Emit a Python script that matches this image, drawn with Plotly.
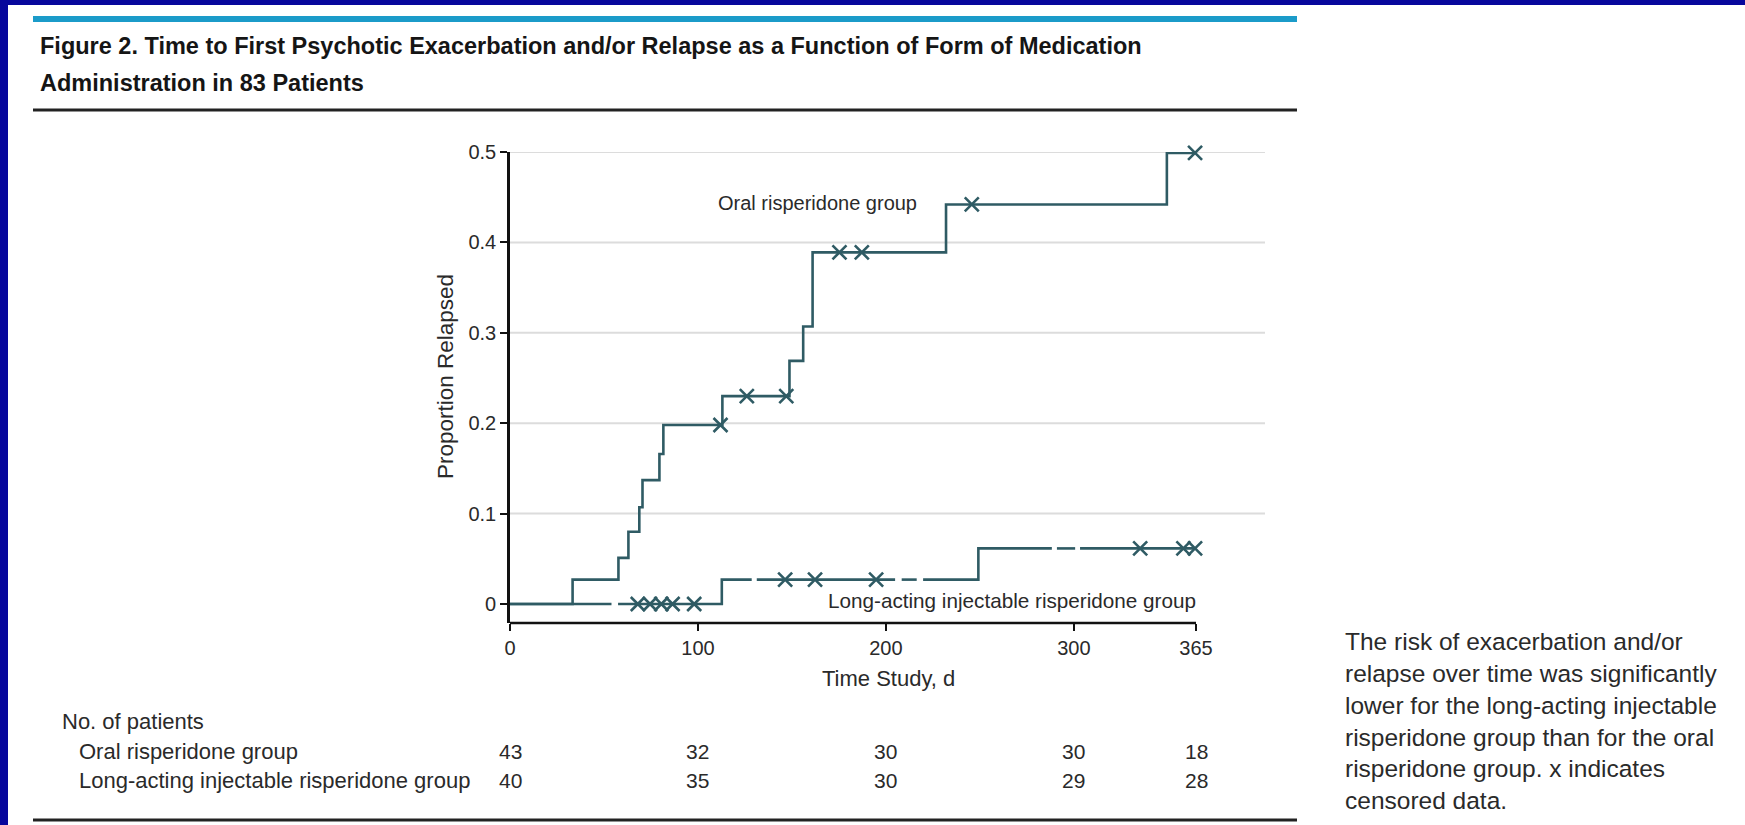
import plotly.graph_objects as go

# ---------------- data ----------------
oral_step_days = [0, 33.3, 57.7, 63.0, 68.8, 70.5, 79.5, 81.6, 113.0, 148.7, 156.0, 161.0, 232.0, 349.5]
oral_step_vals = [0, 0.027, 0.051, 0.080, 0.107, 0.137, 0.166, 0.198, 0.230, 0.269, 0.307, 0.389, 0.442, 0.499]
oral_cens_days = [112.0, 126.0, 147.0, 175.3, 187.2, 245.7, 364.5]
oral_cens_vals = [0.198, 0.230, 0.230, 0.389, 0.389, 0.442, 0.499]

lai_step_days = [0, 112.7, 249.2]
lai_step_vals = [0, 0.027, 0.0615]
lai_cens_days = [68.0, 74.5, 80.5, 86.5, 98.0, 146.4, 162.3, 194.8, 335.3, 358.3, 364.5]
lai_cens_vals = [0, 0, 0, 0, 0, 0.027, 0.027, 0.027, 0.0615, 0.0615, 0.0615]
lai_gaps = [(54.0, 57.5), (128.6, 131.3), (204.9, 208.4), (216.4, 219.8), (288.3, 291.0), (300.7, 303.3)]

end_day = 365
x_tick_vals = [0, 100, 200, 300, 365]
x_tick_text = ["0", "100", "200", "300", "365"]
y_tick_vals = [0, 0.1, 0.2, 0.3, 0.4, 0.5]
y_tick_text = ["0", "0.1", "0.2", "0.3", "0.4", "0.5"]
grid_vals = [0.1, 0.2, 0.3, 0.4, 0.5]

risk_days = [0, 100, 200, 300, 365]
risk_oral = [43, 32, 30, 30, 18]
risk_lai = [40, 35, 30, 29, 28]

title_lines = ["Figure 2. Time to First Psychotic Exacerbation and/or Relapse as a Function of Form of Medication",
               "Administration in 83 Patients"]
caption_lines = ["The risk of exacerbation and/or", "relapse over time was significantly",
                 "lower for the long-acting injectable", "risperidone group than for the oral",
                 "risperidone group. x indicates", "censored data."]

# ---------------- layout helpers ----------------
W, H = 1745, 825
PL, PR, PT, PB = 510, 1265, 152, 623
X_MAX = (PR - PL) / ((1196 - 510) / 365.0)


def fx(px):
    return (px - PL) / (PR - PL)


def fy(py):
    return (PB - py) / (PB - PT)


def step_path(days, vals, end, gaps=()):
    xs, ys = [], []
    for i, (t, v) in enumerate(zip(days, vals)):
        t_next = days[i + 1] if i + 1 < len(days) else end
        xs.append(t)
        ys.append(v)
        for a, b in sorted(gaps):
            if t < a < t_next:
                xs += [a, None, b]
                ys += [v, None, v]
        xs.append(t_next)
        ys.append(v)
    return xs, ys


LINE = "#2f5b64"
FONT = "Liberation Sans, Arial, sans-serif"
TXT = "#2a2a2a"

fig = go.Figure()

ox, oy = step_path(oral_step_days, oral_step_vals, end_day)
fig.add_trace(go.Scatter(x=ox, y=oy, mode="lines", line=dict(color=LINE, width=2.6),
                         hoverinfo="skip", showlegend=False))
lx, ly = step_path(lai_step_days, lai_step_vals, end_day, lai_gaps)
fig.add_trace(go.Scatter(x=lx, y=ly, mode="lines", line=dict(color=LINE, width=2.6),
                         connectgaps=False, hoverinfo="skip", showlegend=False))
fig.add_trace(go.Scatter(x=oral_cens_days, y=oral_cens_vals, mode="markers", cliponaxis=False,
                         marker=dict(symbol="x-thin", size=14, line=dict(color=LINE, width=2.6)),
                         showlegend=False))
fig.add_trace(go.Scatter(x=lai_cens_days, y=lai_cens_vals, mode="markers", cliponaxis=False,
                         marker=dict(symbol="x-thin", size=14, line=dict(color=LINE, width=2.6)),
                         showlegend=False))

shapes = []
# grid lines
for g in grid_vals:
    shapes.append(dict(type="line", xref="x domain", yref="y", x0=0, x1=1, y0=g, y1=g,
                       line=dict(color="#dcdcdc", width=2), layer="below"))
# x axis line (ends at 365)
shapes.append(dict(type="line", xref="x", yref="y domain", x0=0, x1=end_day, y0=0, y1=0,
                   line=dict(color="#111111", width=2.6)))
# frame decorations
shapes.append(dict(type="rect", xref="paper", yref="paper", x0=fx(0), x1=fx(8), y0=fy(H), y1=fy(0),
                   fillcolor="#07079c", line=dict(width=0)))
shapes.append(dict(type="rect", xref="paper", yref="paper", x0=fx(0), x1=fx(W), y0=fy(5), y1=fy(0),
                   fillcolor="#07079c", line=dict(width=0)))
shapes.append(dict(type="rect", xref="paper", yref="paper", x0=fx(33), x1=fx(1297), y0=fy(22), y1=fy(16),
                   fillcolor="#1b9bc9", line=dict(width=0)))
shapes.append(dict(type="line", xref="paper", yref="paper", x0=fx(33), x1=fx(1297), y0=fy(110), y1=fy(110),
                   line=dict(color="#222222", width=3)))
shapes.append(dict(type="line", xref="paper", yref="paper", x0=fx(33), x1=fx(1297), y0=fy(820), y1=fy(820),
                   line=dict(color="#222222", width=3)))

ann = []
# title
for i, (line, py) in enumerate(zip(title_lines, [46, 83])):
    ann.append(dict(text=line, xref="paper", yref="paper", x=fx(38), y=fy(py), xanchor="left",
                    yanchor="middle", showarrow=False,
                    font=dict(family=FONT, size=23.5, color="#151515", weight="bold")))
# axis titles
ann.append(dict(text="Proportion Relapsed", xref="paper", yref="paper", x=fx(445), y=fy(377),
                textangle=-90, showarrow=False, xanchor="center", yanchor="middle",
                font=dict(family=FONT, size=22.5, color=TXT)))
ann.append(dict(text="Time Study, d", xref="paper", yref="paper", x=fx(888), y=fy(678),
                showarrow=False, xanchor="center", yanchor="middle",
                font=dict(family=FONT, size=22, color=TXT)))
# curve labels
ann.append(dict(text="Oral risperidone group", xref="paper", yref="paper", x=fx(817), y=fy(203),
                showarrow=False, xanchor="center", yanchor="middle",
                font=dict(family=FONT, size=20, color=TXT)))
ann.append(dict(text="Long-acting injectable risperidone group", xref="paper", yref="paper",
                x=fx(1012), y=fy(600), showarrow=False, xanchor="center", yanchor="middle",
                font=dict(family=FONT, size=20.7, color=TXT)))
# number at risk table
ann.append(dict(text="No. of patients", xref="paper", yref="paper", x=fx(60), y=fy(721),
                showarrow=False, xanchor="left", yanchor="middle",
                font=dict(family=FONT, size=22, color=TXT)))
ann.append(dict(text="Oral risperidone group", xref="paper", yref="paper", x=fx(77), y=fy(751),
                showarrow=False, xanchor="left", yanchor="middle",
                font=dict(family=FONT, size=22, color=TXT)))
ann.append(dict(text="Long-acting injectable risperidone group", xref="paper", yref="paper", x=fx(77),
                y=fy(780), showarrow=False, xanchor="left", yanchor="middle",
                font=dict(family=FONT, size=22, color=TXT)))
for d, n1, n2 in zip(risk_days, risk_oral, risk_lai):
    ann.append(dict(text=str(n1), xref="x", yref="paper", x=d, y=fy(751), showarrow=False,
                    xanchor="center", yanchor="middle", font=dict(family=FONT, size=21, color=TXT)))
    ann.append(dict(text=str(n2), xref="x", yref="paper", x=d, y=fy(780), showarrow=False,
                    xanchor="center", yanchor="middle", font=dict(family=FONT, size=21, color=TXT)))
# caption
ann.append(dict(text="<br>".join(caption_lines), xref="paper", yref="paper", x=fx(1343), y=fy(626),
                showarrow=False, xanchor="left", yanchor="top", align="left",
                font=dict(family=FONT, size=24.5, color=TXT)))

fig.update_layout(
    width=W, height=H,
    margin=dict(l=PL, r=W - PR, t=PT, b=H - PB, pad=0),
    paper_bgcolor="white", plot_bgcolor="white",
    shapes=shapes, annotations=ann, showlegend=False,
    xaxis=dict(range=[0, X_MAX], showgrid=False, zeroline=False, showline=False,
               tickvals=x_tick_vals, ticktext=x_tick_text, ticks="outside", ticklen=7,
               tickwidth=2.4, tickcolor="#111111",
               tickfont=dict(family=FONT, size=20, color=TXT)),
    yaxis=dict(range=[-0.021, 0.5], showgrid=False, zeroline=False, showline=True,
               linecolor="#111111", linewidth=2.6,
               tickvals=y_tick_vals, ticktext=y_tick_text, ticks="outside", ticklen=7,
               tickwidth=2.4, tickcolor="#111111",
               tickfont=dict(family=FONT, size=20, color=TXT)),
)

fig.write_html("out.html", config={"displayModeBar": False},
               post_script="document.body.style.margin='0px';document.body.style.padding='0px';"
                           "document.body.style.overflow='hidden';")
